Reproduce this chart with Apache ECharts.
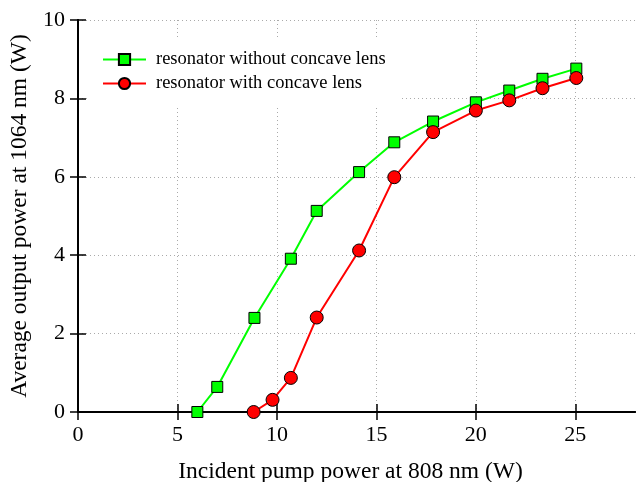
<!DOCTYPE html>
<html>
<head>
<meta charset="utf-8">
<script src="https://cdn.jsdelivr.net/npm/echarts@6/dist/echarts.min.js"></script>
<style>html,body{margin:0;padding:0;background:#fff}#c{width:638px;height:482px}</style>
</head>
<body>
<div id="c"></div>
<script>
const seriesNames = ['resonator without concave lens', 'resonator with concave lens'];
const pumpWithout = [6.0, 7.0, 8.87, 10.7, 12.0, 14.13, 15.9, 17.85, 20.0, 21.68, 23.35, 25.05];
const powerWithout = [0.0, 0.64, 2.40, 3.91, 5.13, 6.12, 6.88, 7.41, 7.90, 8.20, 8.50, 8.76];
const pumpWith = [8.83, 9.78, 10.7, 12.0, 14.13, 15.9, 17.85, 20.0, 21.68, 23.35, 25.05];
const powerWith = [0.0, 0.31, 0.87, 2.41, 4.12, 5.99, 7.14, 7.69, 7.95, 8.26, 8.52];
const xTicks = [0, 5, 10, 15, 20, 25];
const yTicks = [0, 2, 4, 6, 8, 10];
const xTitle = 'Incident pump power at 808 nm (W)';
const yTitle = 'Average output power at 1064 nm (W)';

const FONT = 'Liberation Serif';
const pairs = (xs, ys) => xs.map((x, i) => [x, ys[i]]);

const chart = echarts.init(document.getElementById('c'), null, {renderer: 'canvas'});
const axisLine = {show: true, lineStyle: {color: '#000', width: 2}};
const tick = (vals) => ({show: true, inside: true, length: 8, customValues: vals, lineStyle: {color: '#000', width: 1.5}});
const grid = {show: true, lineStyle: {color: '#aaa', type: [1, 3], width: 1}};
chart.setOption({
  backgroundColor: '#fff',
  animation: false,
  grid: {left: 78, right: 3, top: 20, bottom: 70, outerBoundsMode: 'none', containLabel: false},
  legend: {
    orient: 'vertical', left: 90, top: 37,
    backgroundColor: '#fff', padding: [13, 14, 12, 12],
    itemWidth: 43, itemHeight: 14, itemGap: 5,
    textStyle: {fontFamily: FONT, fontSize: 18.5, color: '#000', padding: [0, 0, 0, 5]},
    data: seriesNames
  },
  xAxis: [{
    type: 'value', min: 0, max: 28, position: 'bottom',
    axisLine, axisTick: tick(xTicks), splitLine: grid,
    axisLabel: {fontFamily: FONT, fontSize: 22, color: '#000', margin: 12, customValues: xTicks},
    name: xTitle, nameLocation: 'middle', nameGap: 48,
    nameTextStyle: {fontFamily: FONT, fontSize: 23.5, color: '#000', padding: [0, 12, 0, 0]}
  }, {
    type: 'value', min: 0, max: 28, position: 'top',
    axisLine, axisTick: tick(xTicks), axisLabel: {show: false}, splitLine: {show: false}
  }],
  yAxis: [{
    type: 'value', min: 0, max: 10, interval: 2, position: 'left',
    axisLine, axisTick: tick(yTicks), splitLine: grid,
    axisLabel: {fontFamily: FONT, fontSize: 22, color: '#000', margin: 13},
    name: yTitle, nameLocation: 'middle', nameGap: 44,
    nameTextStyle: {fontFamily: FONT, fontSize: 23.5, color: '#000'}
  }, {
    type: 'value', min: 0, max: 10, interval: 2, position: 'right',
    axisLine, axisTick: tick(yTicks), axisLabel: {show: false}, splitLine: {show: false}
  }],
  series: [{
    name: seriesNames[0], type: 'line', data: pairs(pumpWithout, powerWithout),
    symbol: 'rect', symbolSize: 11,
    lineStyle: {color: '#00ff00', width: 2},
    itemStyle: {color: '#00ff00', borderColor: '#000', borderWidth: 1},
    z: 3
  }, {
    name: seriesNames[1], type: 'line', data: pairs(pumpWith, powerWith),
    symbol: 'circle', symbolSize: 13,
    lineStyle: {color: '#ff0000', width: 2},
    itemStyle: {color: '#ff0000', borderColor: '#000', borderWidth: 1},
    z: 4
  }]
});
</script>
</body>
</html>
